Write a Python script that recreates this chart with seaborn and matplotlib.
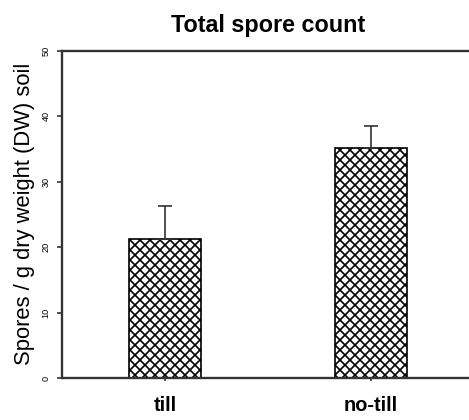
import matplotlib
matplotlib.use("Agg")
import matplotlib.pyplot as plt
import seaborn as sns
import pandas as pd

# Spore counts per tillage treatment (mean and standard error)
treatments = ["till", "no-till"]
spores = [21.2, 35.1]
spores_err = [5.0, 3.3]
y_ticks = [0, 10, 20, 30, 40, 50]

df = pd.DataFrame({"treatment": treatments, "spores": spores})

sns.set_theme(style="white")
plt.rcParams["font.family"] = ["Liberation Sans", "DejaVu Sans"]
plt.rcParams["hatch.linewidth"] = 1.0
plt.rcParams["hatch.color"] = "#111111"
plt.rcParams["text.color"] = "black"
plt.rcParams["axes.labelcolor"] = "black"
plt.rcParams["xtick.color"] = "black"
plt.rcParams["ytick.color"] = "black"

DPI = 120
fig = plt.figure(figsize=(469 / DPI, 420 / DPI), dpi=DPI)
ax = fig.add_axes([62 / 469, 1 - 378 / 420, (473.5 - 62) / 469, (378 - 50.5) / 420])

sns.barplot(data=df, x="treatment", y="spores", ax=ax, color="white",
            width=0.35, errorbar=None, edgecolor="black", linewidth=1.0)
for patch in ax.patches:
    patch.set_hatch("xxxx")

ax.errorbar(range(len(treatments)), spores, yerr=[[0] * len(spores), spores_err],
            fmt="none", ecolor="#333333", elinewidth=1.0, capsize=4, capthick=1.0,
            zorder=1)

ax.set_xlim(-0.5, 1.5)
ax.set_ylim(0, 50)
ax.set_yticks(y_ticks)
ax.set_yticklabels([str(v) for v in y_ticks], rotation=90, va="center", fontsize=5.5)

for side in ["left", "bottom", "top"]:
    ax.spines[side].set_visible(True)
    ax.spines[side].set_color("#333333")
    ax.spines[side].set_linewidth(1.4)
ax.spines["right"].set_visible(False)

ax.tick_params(axis="y", direction="out", length=3, width=1, color="#333333", pad=4,
               left=True)
ax.tick_params(axis="x", direction="out", length=2, width=1, color="#333333", pad=9,
               bottom=True)
for lbl in ax.get_xticklabels():
    lbl.set_fontsize(12)
    lbl.set_fontweight("bold")

ax.set_xlabel("")
ax.set_ylabel("Spores / g dry weight (DW) soil", fontsize=13.2, labelpad=4)
ax.set_title("Total spore count", fontsize=14, fontweight="bold", pad=11)

fig.savefig("out.png", dpi=DPI)
